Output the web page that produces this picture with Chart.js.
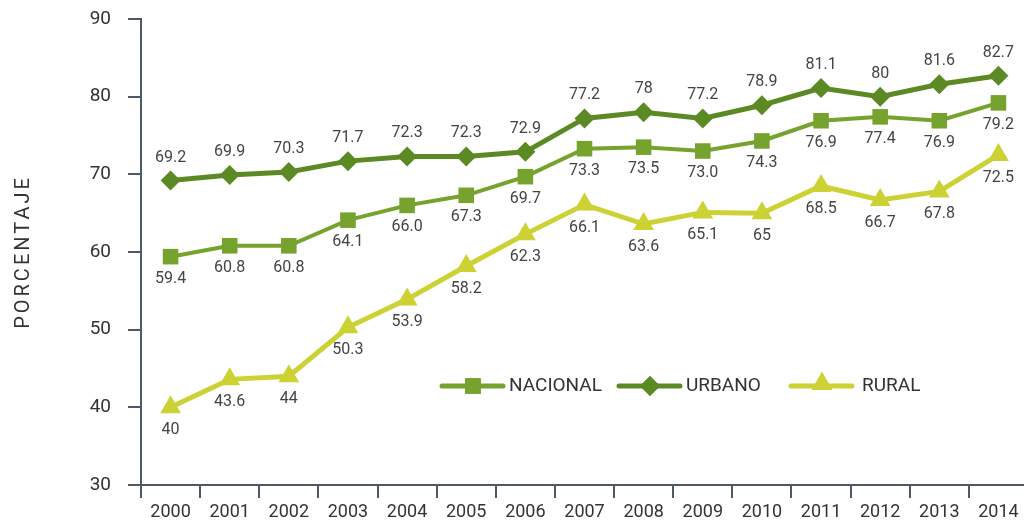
<!DOCTYPE html>
<html>
<head>
<meta charset="utf-8">
<script src="https://cdn.jsdelivr.net/npm/chart.js@4/dist/chart.umd.min.js"></script>
<style>
  html, body { margin: 0; padding: 0; background: #fff; overflow: hidden; }
  #wrap { width: 1024px; height: 525px; overflow: hidden; }
</style>
</head>
<body>
<div id="wrap"><canvas id="graph" width="1028" height="525"></canvas></div>
<script>
// data
const years = ["2000", "2001", "2002", "2003", "2004", "2005", "2006", "2007", "2008", "2009", "2010", "2011", "2012", "2013", "2014"];
const nacional = [59.4, 60.8, 60.8, 64.1, 66.0, 67.3, 69.7, 73.3, 73.5, 73.0, 74.3, 76.9, 77.4, 76.9, 79.2];
const urbano = [69.2, 69.9, 70.3, 71.7, 72.3, 72.3, 72.9, 77.2, 78, 77.2, 78.9, 81.1, 80, 81.6, 82.7];
const rural = [40, 43.6, 44, 50.3, 53.9, 58.2, 62.3, 66.1, 63.6, 65.1, 65, 68.5, 66.7, 67.8, 72.5];
const yTicks = [30, 40, 50, 60, 70, 80, 90];
const yTitle = "PORCENTAJE";

const axisColor = "#4b5a66";
const textColor = "#333333";
const FONT = "Roboto, 'DejaVu Sans', sans-serif";

// value labels next to each point (above for urbano, below for others)
const pointLabels = {
  id: "pointLabels",
  afterDatasetsDraw(chart) {
    const ctx = chart.ctx;
    ctx.save();
    ctx.font = "16px " + FONT;
    ctx.fillStyle = "#444444";
    ctx.textAlign = "center";
    ctx.textBaseline = "middle";
    chart.data.datasets.forEach((ds, i) => {
      chart.getDatasetMeta(i).data.forEach((pt, j) => {
        const v = ds.data[j];
        const txt = ds.decimals ? v.toFixed(ds.decimals) : String(v);
        ctx.fillText(txt, pt.x, pt.y + ds.labelDy);
      });
    });
    ctx.restore();
  },
};

// legend inside the plot + rotated axis title
const extras = {
  id: "extras",
  afterDraw(chart) {
    const ctx = chart.ctx;
    ctx.save();
    const legendX = [442, 619, 791];
    const legendY = 386;
    chart.data.datasets.forEach((ds, i) => {
      const x0 = legendX[i];
      ctx.strokeStyle = ds.borderColor;
      ctx.lineWidth = 5;
      ctx.lineCap = "round";
      ctx.beginPath();
      ctx.moveTo(x0, legendY);
      ctx.lineTo(x0 + 61, legendY);
      ctx.stroke();
      ctx.fillStyle = ds.borderColor;
      Chart.helpers.drawPoint(ctx, { pointStyle: ds.pointStyle, radius: ds.pointRadius, borderWidth: 0 }, x0 + 31, legendY - (ds.pointStyle === "triangle" ? 2 : 0));
      ctx.fill();
      ctx.fillStyle = textColor;
      ctx.font = "19px " + FONT;
      ctx.textAlign = "left";
      ctx.textBaseline = "middle";
      ctx.fillText(ds.label, x0 + 67 + (i === 2 ? 4 : 0), legendY);
    });

    ctx.translate(24, 252);
    ctx.rotate(-Math.PI / 2);
    ctx.font = "20px " + FONT;
    ctx.letterSpacing = "3px";
    ctx.fillStyle = textColor;
    ctx.textAlign = "center";
    ctx.textBaseline = "middle";
    ctx.fillText(yTitle, 0, 0);
    ctx.restore();
  },
};

const noPad = (s) => {
  s.paddingTop = 0;
  s.paddingBottom = 0;
  s.paddingLeft = 0;
  s.paddingRight = 0;
};

const graph = document.getElementById("graph").getContext("2d");

new Chart(graph, {
  type: "line",
  data: {
    labels: years,
    datasets: [
      {
        label: "NACIONAL",
        data: nacional,
        borderColor: "#76a22e",
        backgroundColor: "#76a22e",
        borderWidth: 4,
        pointStyle: "rect",
        pointRadius: 11,
        pointBorderWidth: 0,
        tension: 0,
        decimals: 1,
        labelDy: 22,
      },
      {
        label: "URBANO",
        data: urbano,
        borderColor: "#5b8a25",
        backgroundColor: "#5b8a25",
        borderWidth: 5,
        pointStyle: "rectRot",
        pointRadius: 10,
        pointBorderWidth: 0,
        tension: 0,
        decimals: 0,
        labelDy: -23,
      },
      {
        label: "RURAL",
        data: rural,
        borderColor: "#cdd234",
        backgroundColor: "#cdd234",
        borderWidth: 5,
        pointStyle: "triangle",
        pointRadius: 12,
        pointBorderWidth: 0,
        tension: 0,
        decimals: 0,
        labelDy: 23,
      },
    ],
  },
  options: {
    responsive: false,
    animation: false,
    layout: { autoPadding: false, padding: { top: 19, right: 0, left: 0, bottom: 0 } },
    plugins: {
      legend: { display: false },
      tooltip: { enabled: false },
    },
    scales: {
      x: {
        offset: true,
        grid: { offset: true, drawOnChartArea: false, tickLength: 13, color: axisColor, lineWidth: 2 },
        border: { color: axisColor, width: 2 },
        ticks: { color: textColor, font: { family: FONT, size: 18 }, padding: 4, maxRotation: 0 },
        afterFit: (s) => { s.height = 40; noPad(s); },
      },
      y: {
        min: 30,
        max: 90,
        afterBuildTicks: (s) => { s.ticks = yTicks.map((v) => ({ value: v })); },
        grid: { drawOnChartArea: false, tickLength: 13, color: axisColor, lineWidth: 2 },
        border: { color: axisColor, width: 2 },
        ticks: { color: textColor, font: { family: FONT, size: 19 }, padding: 17 },
        afterFit: (s) => { s.width = 141; noPad(s); },
      },
    },
  },
  plugins: [pointLabels, extras],
});
</script>
</body>
</html>
